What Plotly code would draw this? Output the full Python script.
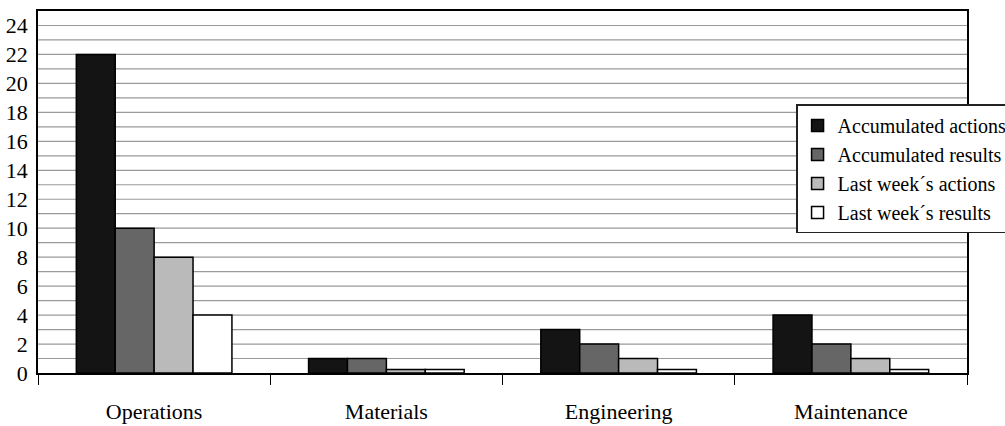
import plotly.graph_objects as go

# Action tracking by department
categories = ["Operations", "Materials", "Engineering", "Maintenance"]
series_names = ["Accumulated actions", "Accumulated results",
                "Last week\u00b4s actions", "Last week\u00b4s results"]
accumulated_actions = [22, 1, 3, 4]
accumulated_results = [10, 1, 2, 2]
last_week_actions = [8, 0.25, 1, 1]
last_week_results = [4, 0.25, 0.25, 0.25]
y_tick_values = list(range(0, 25, 2))

series_values = [accumulated_actions, accumulated_results,
                 last_week_actions, last_week_results]
fill_colors = ["#141414", "#666666", "#bababa", "#ffffff"]

FONT = "Liberation Serif, Times New Roman, serif"

fig = go.Figure()
for name, vals, col in zip(series_names, series_values, fill_colors):
    fig.add_trace(go.Bar(
        x=categories, y=vals, name=name,
        marker=dict(color=col, line=dict(color="#000000", width=1.5)),
    ))

fig.update_layout(
    width=1005, height=426,
    margin=dict(l=38, r=38, t=11, b=53, autoexpand=False),
    paper_bgcolor="white", plot_bgcolor="white",
    barmode="group", bargap=0.33, bargroupgap=0,
    font=dict(family=FONT, color="#000000", size=21),
    showlegend=True,
    legend=dict(
        x=0.816, y=0.742, xanchor="left", yanchor="top",
        bgcolor="white", bordercolor="#222222", borderwidth=1.5,
        font=dict(family=FONT, size=20, color="#000000"),
        tracegroupgap=0, itemwidth=30,
    ),
)

fig.update_xaxes(
    automargin=False,
    showline=True, linecolor="#000000", linewidth=1.5, mirror=True,
    ticks="outside", tickson="boundaries", ticklen=10, tickwidth=1.2,
    tickcolor="#000000", ticklabelstandoff=18,
    tickfont=dict(family=FONT, size=22),
    showgrid=False,
)
fig.update_yaxes(
    automargin=False,
    range=[0, 25], showline=True, linecolor="#000000", linewidth=1.5,
    mirror=True, tickmode="array", tickvals=y_tick_values,
    ticks="", ticklabelstandoff=4,
    tickfont=dict(family=FONT, size=22),
    showgrid=False, zeroline=False,
)

# Horizontal rules at every unit
for v in range(1, 25):
    fig.add_hline(y=v, line=dict(color="#9a9a9a", width=1.2), layer="below")

fig.write_html("out.html")
